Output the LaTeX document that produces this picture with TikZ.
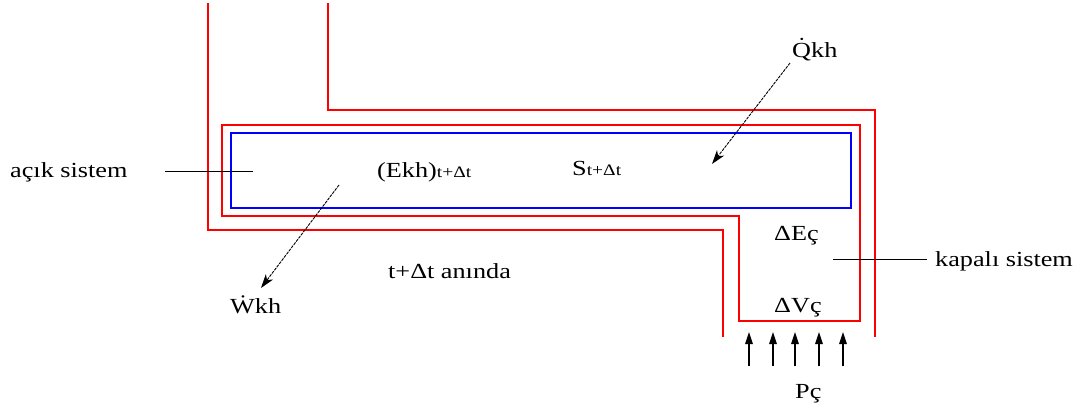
\documentclass[tikz,border=0pt]{standalone}
\usepackage{fontspec}
\setmainfont{Liberation Serif}[FakeStretch=1.22]
\usetikzlibrary{arrows.meta}

\begin{document}
\begin{tikzpicture}[x=1pt,y=-1pt,
  wall/.style={draw=red, line width=1.2pt},
  cvol/.style={draw=blue, line width=1.5pt},
  lead/.style={draw=black, line width=0.9pt},
  flux/.style={draw=black, line width=0.9pt, dash pattern=on 3pt off 1pt,
               -{Stealth[length=14pt,width=9pt,inset=4pt]}},
  push/.style={draw=black, line width=1.3pt, -{Triangle[length=12pt,width=7.5pt]}},
  lbl/.style={inner sep=0pt, anchor=base west, font=\fontsize{21.5}{24}\selectfont},
]
\newcommand{\smallidx}[1]{{\fontsize{16}{18}\selectfont #1}}
\useasboundingbox (0,0) rectangle (1084,410);

% pipe walls (outer boundary)
\draw[wall] (208,3) -- (208,230) -- (723,230) -- (723,337);
\draw[wall] (328,3) -- (328,110) -- (875,110) -- (875,337);
% closed system boundary
\draw[wall] (222,125) -- (860,125) -- (860,321) -- (739,321) -- (739,216) -- (222,216) -- cycle;
% open system (control volume)
\draw[cvol] (231,133) rectangle (851,208);

% labels
\node[lbl] (acik)   at (10,177)  {açık sistem};
\node[lbl] (kapali) at (935,266) {kapalı sistem};
\node[lbl] (ekh)    at (377,177) {(Ekh)\smallidx{t+Δt}};
\node[lbl] (st)     at (572,175) {S\smallidx{t+Δt}};
\node[lbl] (an)     at (388,278) {t+Δt anında};
\node[lbl] (wkh)    at (230,313) {\.{W}kh};
\node[lbl] (qkh)    at (792,57)  {\.{Q}kh};
\node[lbl] (de)     at (774,240) {ΔEç};
\node[lbl] (dv)     at (774,312) {ΔVç};
\node[lbl] (pc)     at (795,398) {Pç};

% leader lines
\coordinate (a1) at (165,171);
\coordinate (a2) at (253,171);
\draw[lead] (a1) -- (a2);
\coordinate (k1) at (833,259);
\coordinate (k2) at (927,259);
\draw[lead] (k1) -- (k2);

% heat and work transfer
\coordinate (q1) at (790,63);
\coordinate (q2) at (712,164);
\draw[flux] (q1) -- (q2);
\coordinate (w1) at (339,185);
\coordinate (w2) at (261,288);
\draw[flux] (w1) -- (w2);

% pressure on the lower face
\foreach \px in {749,773,795,819,843}{
  \coordinate (p0) at (\px,366);
  \coordinate (p1) at (\px,332);
  \draw[push] (p0) -- (p1);
}
\end{tikzpicture}
\end{document}
